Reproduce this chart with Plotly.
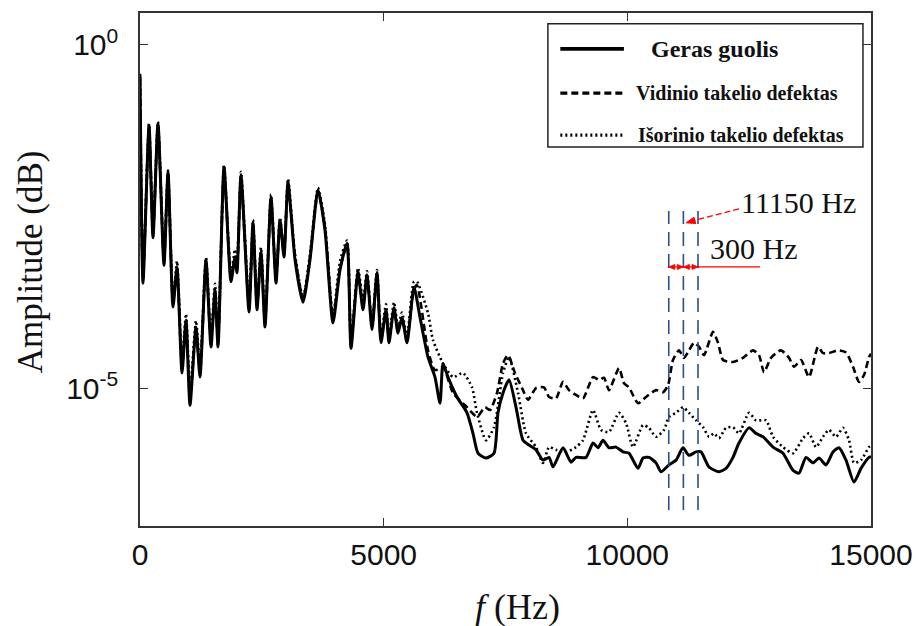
import plotly.graph_objects as go

# ---------------- data (frequency in Hz, amplitude as log10 value) ----------------
# low-frequency part: the three spectra almost coincide
f_low = [0, 62, 185, 267, 369, 492, 575, 677, 759, 862, 944, 1026, 1149, 1231, 1354,
         1457, 1539, 1601, 1724, 1867, 1949, 1990, 2072, 2237, 2319, 2401, 2483, 2565,
         2688, 2791, 2873, 2955, 3037, 3181, 3345, 3488, 3653, 3796, 3960, 4104, 4248,
         4330, 4473, 4576, 4658, 4761, 4863, 4945, 5048, 5109, 5212, 5294, 5376, 5479, 5622]
a_low_good = [-0.44, -3.47, -1.17, -2.81, -1.14, -3.21, -1.85, -3.82, -3.24, -4.78, -4.01, -5.25,
              -4.11, -4.84, -3.13, -4.40, -3.57, -4.40, -1.78, -3.45, -3.09, -3.32, -1.90, -3.89,
              -2.59, -3.86, -3.02, -4.11, -2.22, -3.47, -2.55, -3.09, -2.00, -3.13, -3.75, -3.13,
              -2.11, -2.70, -4.05, -3.28, -2.89, -4.42, -3.32, -3.86, -3.35, -4.15, -3.32, -4.34,
              -3.86, -4.34, -3.83, -4.20, -3.97, -4.34, -3.53]
a_low_inner = [-0.47, -3.40, -1.20, -2.75, -1.17, -3.15, -1.88, -3.75, -3.28, -4.70, -4.05, -5.15,
               -4.15, -4.78, -3.17, -4.33, -3.60, -4.35, -1.82, -3.40, -3.12, -3.27, -1.94, -3.82,
               -2.63, -3.80, -3.05, -4.05, -2.26, -3.42, -2.58, -3.04, -2.04, -3.08, -3.70, -3.10,
               -2.14, -2.66, -3.98, -3.25, -2.92, -4.35, -3.30, -3.80, -3.38, -4.10, -3.35, -4.28,
               -3.89, -4.28, -3.86, -4.15, -4.00, -4.28, -3.56]
a_low_outer = [-0.42, -3.35, -1.15, -2.72, -1.12, -3.12, -1.83, -3.70, -3.15, -4.60, -3.92, -5.05,
               -4.02, -4.70, -3.10, -4.25, -3.48, -4.30, -1.75, -3.35, -2.98, -3.20, -1.85, -3.75,
               -2.55, -3.75, -2.95, -3.98, -2.18, -3.38, -2.52, -3.00, -1.95, -3.05, -3.68, -3.05,
               -2.08, -2.62, -3.95, -3.15, -2.85, -4.30, -3.25, -3.72, -3.30, -4.05, -3.28, -4.22,
               -3.78, -4.25, -3.75, -4.10, -3.90, -4.25, -3.45]

# Geras guolis (good bearing), higher frequencies
f_good = [5746, 5910, 6053, 6156, 6218, 6320, 6505, 6710, 6833, 6936, 7100, 7264, 7346, 7449,
          7572, 7716, 7859, 7982, 8126, 8270, 8393, 8475, 8680, 8844, 8947, 9152, 9296, 9398,
          9501, 9624, 9768, 9911, 10034, 10219, 10322, 10445, 10588, 10691, 10855, 10999,
          11142, 11265, 11409, 11512, 11676, 11881, 12025, 12168, 12291, 12497, 12640, 12784,
          12989, 13194, 13400, 13523, 13666, 13810, 13933, 14077, 14220, 14343, 14487, 14651,
          14795, 14959, 15000]
a_good = [-3.97, -4.55, -4.84, -5.22, -4.64, -4.84, -5.13, -5.36, -5.66, -5.95, -6.02, -5.95,
          -5.36, -5.07, -4.88, -5.28, -5.76, -5.83, -5.90, -6.05, -6.01, -6.15, -5.87, -6.08,
          -6.01, -6.01, -5.80, -5.87, -5.76, -5.87, -5.86, -5.93, -5.95, -6.17, -6.02, -6.01,
          -6.09, -6.22, -6.12, -6.05, -5.87, -5.98, -5.93, -5.93, -6.15, -6.22, -6.17, -6.01,
          -5.80, -5.58, -5.66, -5.71, -5.86, -5.95, -6.20, -6.24, -6.01, -6.09, -6.02, -6.12,
          -5.93, -5.87, -6.05, -6.37, -6.17, -6.01, -6.00]

# Vidinio takelio defektas (inner race defect), higher frequencies
f_inner = [5684, 5910, 6053, 6218, 6423, 6710, 6915, 7079, 7182, 7326, 7449, 7552, 7695, 7859,
           7962, 8126, 8290, 8393, 8536, 8680, 8803, 8947, 9090, 9296, 9419, 9521, 9624, 9829,
           9932, 10034, 10219, 10383, 10588, 10732, 10835, 10937, 11060, 11163, 11265, 11368,
           11471, 11573, 11758, 11861, 11963, 12168, 12374, 12579, 12702, 12805, 12948, 13153,
           13317, 13420, 13564, 13728, 13913, 14015, 14138, 14323, 14487, 14631, 14754, 14857,
           14959, 15000]
a_inner = [-3.50, -4.45, -4.74, -4.69, -5.07, -5.28, -5.42, -5.28, -5.32, -5.07, -4.64, -4.52,
           -4.78, -5.03, -5.17, -5.00, -4.99, -5.13, -5.15, -4.91, -5.03, -5.10, -5.15, -4.84,
           -4.88, -4.85, -5.03, -4.71, -4.93, -4.99, -5.22, -5.13, -5.03, -5.06, -4.96, -4.59,
           -4.45, -4.56, -4.45, -4.34, -4.40, -4.52, -4.18, -4.34, -4.59, -4.62, -4.56, -4.45,
           -4.52, -4.77, -4.56, -4.45, -4.56, -4.69, -4.59, -4.84, -4.40, -4.49, -4.49, -4.45,
           -4.48, -4.69, -4.91, -4.81, -4.55, -4.50]

# Išorinio takelio defektas (outer race defect), higher frequencies
f_outer = [5684, 5910, 6012, 6218, 6423, 6628, 6813, 6915, 7100, 7264, 7449, 7572, 7757, 7921,
           8126, 8270, 8393, 8536, 8742, 8947, 9090, 9296, 9460, 9624, 9829, 9973, 10116, 10322,
           10445, 10588, 10752, 10855, 10999, 11142, 11265, 11409, 11553, 11676, 11778, 11881,
           12025, 12168, 12291, 12497, 12640, 12846, 12989, 13194, 13400, 13605, 13728, 13872,
           14015, 14138, 14282, 14426, 14549, 14651, 14795, 14959, 15000]
a_outer = [-3.45, -3.91, -4.30, -4.64, -4.84, -4.78, -4.99, -5.36, -5.76, -5.57, -4.78, -4.55,
           -5.07, -5.66, -5.86, -6.09, -5.86, -5.90, -5.93, -5.86, -5.76, -5.32, -5.61, -5.64,
           -5.36, -5.51, -5.86, -5.54, -5.58, -5.71, -5.61, -5.42, -5.36, -5.28, -5.36, -5.47,
           -5.57, -5.71, -5.66, -5.73, -5.58, -5.57, -5.66, -5.36, -5.47, -5.47, -5.71, -5.86,
           -5.95, -5.73, -5.66, -5.86, -5.71, -5.61, -5.71, -5.58, -5.76, -6.09, -6.05, -5.86,
           -5.85]

series_names = ["Geras guolis", "Vidinio takelio defektas", "Išorinio takelio defektas"]
marker_lines_hz = [10850, 11150, 11450]
x_ticks = [0, 5000, 10000, 15000]
x_ticktext = ["0", "5000", "10000", "15000"]
y_ticks = [1, 1e-5]
y_ticktext = ["10<sup>0</sup>", "10<sup>-5</sup>"]

# ---------------- figure ----------------
SERIF = "Liberation Serif, Times New Roman, serif"
SANS = "Liberation Sans, Arial, sans-serif"

fig = go.Figure()
styles = [dict(dash="solid", width=3.0),
          dict(dash="7px,4px", width=2.6),
          dict(dash="2px,3px", width=2.6)]
for name, al, fx, ay, st in zip(series_names,
                                [a_low_good, a_low_inner, a_low_outer],
                                [f_good, f_inner, f_outer],
                                [a_good, a_inner, a_outer], styles):
    xs = f_low + fx
    ys = [10 ** v for v in (al + ay)]
    fig.add_trace(go.Scatter(x=xs, y=ys, mode="lines", name=name,
                             line=dict(color="black", shape="spline", smoothing=0.6, **st),
                             showlegend=False))

axis_common = dict(showline=True, linecolor="#333", linewidth=1.5, mirror="ticks",
                   ticks="inside", ticklen=8, tickwidth=1.2, tickcolor="#333",
                   showgrid=False, zeroline=False, automargin=False,
                   tickfont=dict(family=SANS, size=30, color="#111"))

fig.update_layout(
    width=916, height=626,
    margin=dict(l=140, r=45, t=13, b=100),
    plot_bgcolor="white", paper_bgcolor="white",
    xaxis=dict(range=[0, 15000], tickvals=x_ticks, ticktext=x_ticktext,
               ticklabelstandoff=1, **axis_common),
    yaxis=dict(type="log", range=[-7.01, 0.466], tickvals=y_ticks, ticktext=y_ticktext,
               ticklabelstandoff=14, **axis_common),
)

# axis titles
fig.add_annotation(text="Amplitude (dB)", xref="paper", yref="paper", x=-0.150, y=0.515,
                   xanchor="center", yanchor="middle", textangle=-90, showarrow=False,
                   font=dict(family=SERIF, size=35, color="#111"))
fig.add_annotation(text="<i>f</i> (Hz)", xref="paper", yref="paper", x=0.516, y=-0.158,
                   showarrow=False, xanchor="center", yanchor="middle",
                   font=dict(family=SERIF, size=36, color="#111"))

# vertical blue dashed marker lines
for hz in marker_lines_hz:
    fig.add_shape(type="line", xref="x", yref="paper", x0=hz, x1=hz, y0=0.031, y1=0.614,
                  line=dict(color="#2b4f86", width=1.6, dash="14px,8px"))

# red annotation: dashed pointer to 11150 Hz
fig.add_shape(type="line", xref="x", yref="paper", x0=12291, x1=11300, y0=0.618, y1=0.594,
              line=dict(color="red", width=1.3, dash="6px,3px"))
fig.add_shape(type="path", xref="x", yref="paper", xsizemode="pixel", ysizemode="pixel",
              xanchor=11207, yanchor=0.591, path="M0,0 L7.8,5.5 L9.6,-0.7 Z",
              fillcolor="red", line=dict(color="red", width=1))
# red 300 Hz spacing line with small arrowheads
RED_Y = 0.505
fig.add_shape(type="line", xref="x", yref="paper", x0=10850, x1=12722, y0=RED_Y, y1=RED_Y,
              line=dict(color="red", width=1.3))
for hz, path in [(10850, "M0,0 L6,2.5 L6,-2.5 Z"), (11150, "M0,0 L-6,2.5 L-6,-2.5 Z"),
                 (11150, "M0,0 L6,2.5 L6,-2.5 Z"), (11450, "M0,0 L-6,2.5 L-6,-2.5 Z")]:
    fig.add_shape(type="path", xref="x", yref="paper", xsizemode="pixel", ysizemode="pixel",
                  xanchor=hz, yanchor=RED_Y, path=path, fillcolor="red",
                  line=dict(color="red", width=0.8))
fig.add_annotation(text="11150 Hz", xref="x", yref="paper", x=12291, y=0.630, xanchor="left",
                   showarrow=False, font=dict(family=SERIF, size=30, color="#111"))
fig.add_annotation(text="300 Hz", xref="x", yref="paper", x=11655, y=0.540, xanchor="left",
                   showarrow=False, font=dict(family=SERIF, size=30, color="#111"))

# custom legend box
fig.add_shape(type="rect", xref="paper", yref="paper", x0=0.558, x1=0.989, y0=0.739, y1=0.979,
              line=dict(color="#222", width=1.5), fillcolor="white")
leg_y = [0.930, 0.844, 0.762]
leg_text_x = [0.696, 0.676, 0.679]
leg_sizes = [24, 20, 20]
for name, st, ly, tx, fs in zip(series_names, styles, leg_y, leg_text_x, leg_sizes):
    fig.add_shape(type="line", xref="paper", yref="paper", x0=0.575, x1=0.662, y0=ly, y1=ly,
                  line=dict(color="black", width=st["width"] + 0.6, dash=st["dash"]))
    fig.add_annotation(text="<b>" + name + "</b>", xref="paper", yref="paper", x=tx, y=ly,
                       xanchor="left", yanchor="middle", showarrow=False,
                       font=dict(family=SERIF, size=fs, color="#111"))

fig.write_html("out.html")
